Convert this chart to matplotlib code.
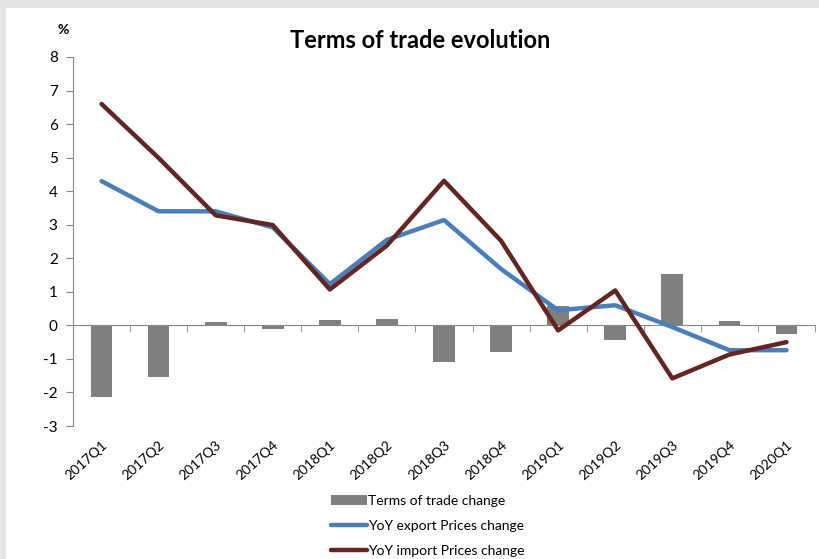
import matplotlib.pyplot as plt
from matplotlib.patches import Rectangle
import numpy as np

quarters = ['2017Q1', '2017Q2', '2017Q3', '2017Q4', '2018Q1', '2018Q2', '2018Q3',
            '2018Q4', '2019Q1', '2019Q2', '2019Q3', '2019Q4', '2020Q1']
tot_change = [-2.15, -1.55, 0.1, -0.1, 0.15, 0.18, -1.1, -0.8, 0.58, -0.43, 1.53, 0.13, -0.27]
export_yoy = [4.3, 3.4, 3.4, 2.92, 1.23, 2.55, 3.14, 1.68, 0.45, 0.6, -0.05, -0.74, -0.74]
import_yoy = [6.6, 4.99, 3.28, 2.99, 1.07, 2.38, 4.31, 2.52, -0.15, 1.04, -1.58, -0.87, -0.5]

plt.rcParams['font.family'] = ['Lato', 'DejaVu Sans']
plt.rcParams['axes.unicode_minus'] = False

fig = plt.figure(figsize=(8.2, 5.59), dpi=100)
fig.patch.set_facecolor('#e6e6e6')
fig.patches.append(Rectangle((6 / 820, 0), 1, 1 - 8 / 559, transform=fig.transFigure,
                             facecolor='white', edgecolor='none', zorder=-5))

ax = fig.add_axes([73 / 820, 1 - 426 / 559, 742 / 820, 369 / 559])
ax.set_facecolor('none')
x = np.arange(len(quarters))

bars = ax.bar(x, tot_change, width=0.38, color='#7f7f7f', zorder=2, label='Terms of trade change')
l1, = ax.plot(x, export_yoy, color='#4a7ebb', lw=3.2, zorder=3, label='YoY export Prices change',
              solid_capstyle='round', solid_joinstyle='round')
l2, = ax.plot(x, import_yoy, color='#632523', lw=3.2, zorder=4, label='YoY import Prices change',
              solid_capstyle='round', solid_joinstyle='round')

ax.set_xlim(-0.5, len(quarters) - 0.5)
ax.set_ylim(-3, 8)
ax.set_yticks(range(-3, 9))
ax.tick_params(axis='y', direction='out', length=5, color='#868686', labelsize=11, pad=6)

for s in ['top', 'right']:
    ax.spines[s].set_visible(False)
ax.spines['left'].set_color('#868686')
ax.spines['bottom'].set_color('#868686')
ax.spines['bottom'].set_position(('data', 0))

ax.set_xticks(np.arange(-0.5, len(quarters), 1), minor=True)
ax.set_xticks(x)
ax.set_xticklabels([])
ax.tick_params(axis='x', which='major', length=0)
ax.tick_params(axis='x', which='minor', direction='out', length=5, color='#868686')

sec = ax.secondary_xaxis(0.0)
sec.set_xticks(x)
sec.set_xticklabels(quarters, rotation=42, ha='right', rotation_mode='anchor', fontsize=10)
sec.tick_params(length=0, pad=9)
sec.spines['bottom'].set_visible(False)

fig.text(420 / 820, 1 - 40 / 559, 'Terms of trade evolution', ha='center', va='center',
         fontsize=17, fontweight='bold')
fig.text(63 / 820, 1 - 30 / 559, '%', ha='center', va='center', fontsize=10, fontweight='bold')

fig.legend(handles=[bars, l1, l2], loc='center', bbox_to_anchor=(428 / 820, 1 - 526 / 559),
           frameon=False, fontsize=10, handlelength=2.6, handletextpad=0.1,
           labelspacing=0.95, borderpad=0)

fig.savefig('out.png', dpi=100, facecolor=fig.get_facecolor())
